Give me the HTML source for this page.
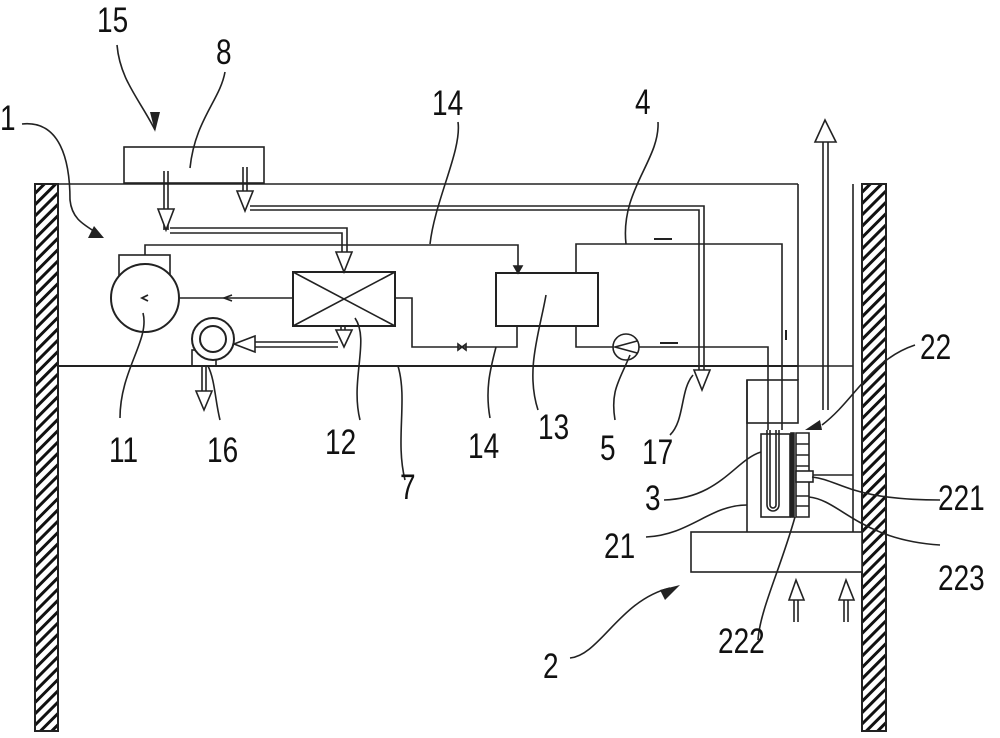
<!DOCTYPE html>
<html><head><meta charset="utf-8"><style>
html,body{margin:0;padding:0;background:#fff;}
svg{display:block;}
text{font-family:"Liberation Sans",sans-serif;font-size:35px;fill:#111;}
</style></head><body>
<svg width="1000" height="738" viewBox="0 0 1000 738" xmlns="http://www.w3.org/2000/svg">
<defs>
<pattern id="h" patternUnits="userSpaceOnUse" width="8" height="8" patternTransform="rotate(45)">
<rect width="8" height="8" fill="#fff"/><rect width="3" height="8" fill="#111"/>
</pattern>
</defs>
<g stroke="#222" stroke-width="1.6" fill="none">
<rect x="35" y="184" width="23" height="547" fill="url(#h)" stroke-width="2"/>
<rect x="862" y="184" width="24" height="547" fill="url(#h)" stroke-width="2"/>
<line x1="853" y1="184" x2="853" y2="532"/>
<line x1="58" y1="184" x2="798" y2="184"/>
<line x1="798" y1="184" x2="798" y2="380"/>
<line x1="58" y1="366" x2="798" y2="366" stroke-width="2"/>
<line x1="798" y1="366" x2="853" y2="366"/>
<rect x="124" y="147" width="140" height="36" fill="#fff"/>
<path d="M164 171 V230 M168 171 V230"/>
<polygon points="158,209 174,209 166,230" fill="#fff"/>
<path d="M243 167 V205 M247 167 V205"/>
<polygon points="237,191 253,191 245,211" fill="#fff"/>
<path d="M170 228 H347 V258 M170 233 H342 V258"/>
<polygon points="336,252 352,252 344,272" fill="#fff"/>
<path d="M250 206 H704 V372 M250 210 H699 V372"/>
<polygon points="694,370 710,370 702,390" fill="#fff"/>
<rect x="119" y="255" width="51" height="22"/>
<circle cx="145" cy="298" r="34" fill="#fff" stroke-width="2"/>
<path d="M145 255 V245 H518 V272"/>
<polygon points="514,266 522,266 518,273" fill="#222"/>
<path d="M179 298 H293"/>
<path d="M232 295 L224 298 L232 301"/>
<path d="M148 295 L142 298 L148 301" stroke-width="1.8"/>
<rect x="293" y="272" width="102" height="54" stroke-width="2"/>
<path d="M293 272 L395 326 M395 272 L293 326"/>
<path d="M395 298 H412 V347 H517 V326"/>
<path d="M458 344 L466 350 V344 L458 350 Z"/>
<path d="M341 326 V335 M345 326 V335"/>
<polygon points="336,330 352,330 344,347" fill="#fff"/>
<rect x="192" y="350" width="24" height="16"/>
<circle cx="213" cy="339" r="21" fill="#fff" stroke-width="2"/>
<circle cx="213" cy="339" r="13" stroke-width="2"/>
<path d="M253 342 H338 M253 347 H338"/>
<polygon points="234,344 255,336 255,352" fill="#fff"/>
<path d="M202 366 V393 M206 366 V393"/>
<polygon points="196,391 212,391 204,410" fill="#fff"/>
<rect x="496" y="273" width="102" height="53" stroke-width="2"/>
<path d="M576 273 V244 H782 V430"/>
<path d="M576 326 V347 H613"/>
<circle cx="626" cy="347" r="13" fill="#fff"/>
<path d="M637 341 L615 347 L637 353"/>
<path d="M639 347 H768 V430"/>
<path d="M654 239 H672 M660 343 H678 M786 330 V340" stroke-width="2"/>
<path d="M823 140 V410 M828 140 V410"/>
<polygon points="815,142 836,142 825,120" fill="#fff"/>
<rect x="747" y="380" width="51" height="43"/>
<path d="M747 380 V532"/>
<line x1="809" y1="475" x2="853" y2="475"/>
<rect x="761" y="434" width="29" height="83"/>
<path d="M767 430 V505 A6 6 0 0 0 779 505 V430"/>
<path d="M770 430 V505 A3 3 0 0 0 776 505 V430"/>
<rect x="791" y="433" width="3" height="84" fill="#222"/>
<path d="M796 433 H809 V517 H796 Z M796 444 H809 M796 455 H809 M796 466 H809 M796 496 H809 M796 506 H809"/>
<rect x="796" y="471" width="17" height="11" fill="#fff"/>
<rect x="691" y="532" width="171" height="40" fill="#fff"/>
<path d="M794 598 V622 M798 598 V622"/><polygon points="789,600 804,600 796,580" fill="#fff"/>
<path d="M844 598 V622 M848 598 V622"/><polygon points="839,600 854,600 846,580" fill="#fff"/>
<path d="M117 45 C120 80 140 100 155 130"/>
<path d="M225 72 C220 100 195 120 190 168"/>
<path d="M22 124 C60 120 70 160 70 200 C72 220 85 225 100 235"/>
<path d="M458 122 C462 150 435 200 430 244"/>
<path d="M658 122 C660 160 620 190 626 244"/>
<path d="M143 313 C150 340 120 370 120 418"/>
<path d="M208 366 C215 380 215 400 220 420"/>
<path d="M355 318 C370 340 350 380 360 420"/>
<path d="M398 366 C408 400 395 440 405 480"/>
<path d="M496 347 C490 370 485 390 490 418"/>
<path d="M546 295 C540 330 525 370 538 410"/>
<path d="M630 355 C620 380 610 390 615 420"/>
<path d="M693 375 C680 390 685 420 670 435"/>
<path d="M664 500 C720 498 735 460 761 452"/>
<path d="M646 537 C690 535 710 505 747 505"/>
<path d="M795 517 C780 570 760 610 758 640"/>
<path d="M812 477 C840 480 850 500 940 500"/>
<path d="M809 497 C840 500 860 540 940 545"/>
<path d="M570 658 C600 655 620 600 670 588"/>
<path d="M915 345 C870 360 855 400 822 425"/>
</g>
<g fill="#222">
<polygon points="150,112 160,112 155,132"/>
<polygon points="94,226 104,238 88,238"/>
<polygon points="805,430 820,420 822,430"/>
<polygon points="680,585 665,600 660,590"/>
</g>
<g>
<text transform="translate(97,32) scale(0.8,1)">15</text>
<text transform="translate(216,64) scale(0.8,1)">8</text>
<text transform="translate(0,130) scale(0.8,1)">1</text>
<text transform="translate(432,115) scale(0.8,1)">14</text>
<text transform="translate(635,114) scale(0.8,1)">4</text>
<text transform="translate(920,359) scale(0.8,1)">22</text>
<text transform="translate(109,462) scale(0.8,1)">11</text>
<text transform="translate(207,462) scale(0.8,1)">16</text>
<text transform="translate(325,454) scale(0.8,1)">12</text>
<text transform="translate(468,458) scale(0.8,1)">14</text>
<text transform="translate(538,439) scale(0.8,1)">13</text>
<text transform="translate(600,460) scale(0.8,1)">5</text>
<text transform="translate(642,464) scale(0.8,1)">17</text>
<text transform="translate(400,499) scale(0.8,1)">7</text>
<text transform="translate(645,510) scale(0.8,1)">3</text>
<text transform="translate(938,510) scale(0.8,1)">221</text>
<text transform="translate(604,558) scale(0.8,1)">21</text>
<text transform="translate(938,590) scale(0.8,1)">223</text>
<text transform="translate(718,653) scale(0.8,1)">222</text>
<text transform="translate(543,678) scale(0.8,1)">2</text>
</g>
</svg>
</body></html>
